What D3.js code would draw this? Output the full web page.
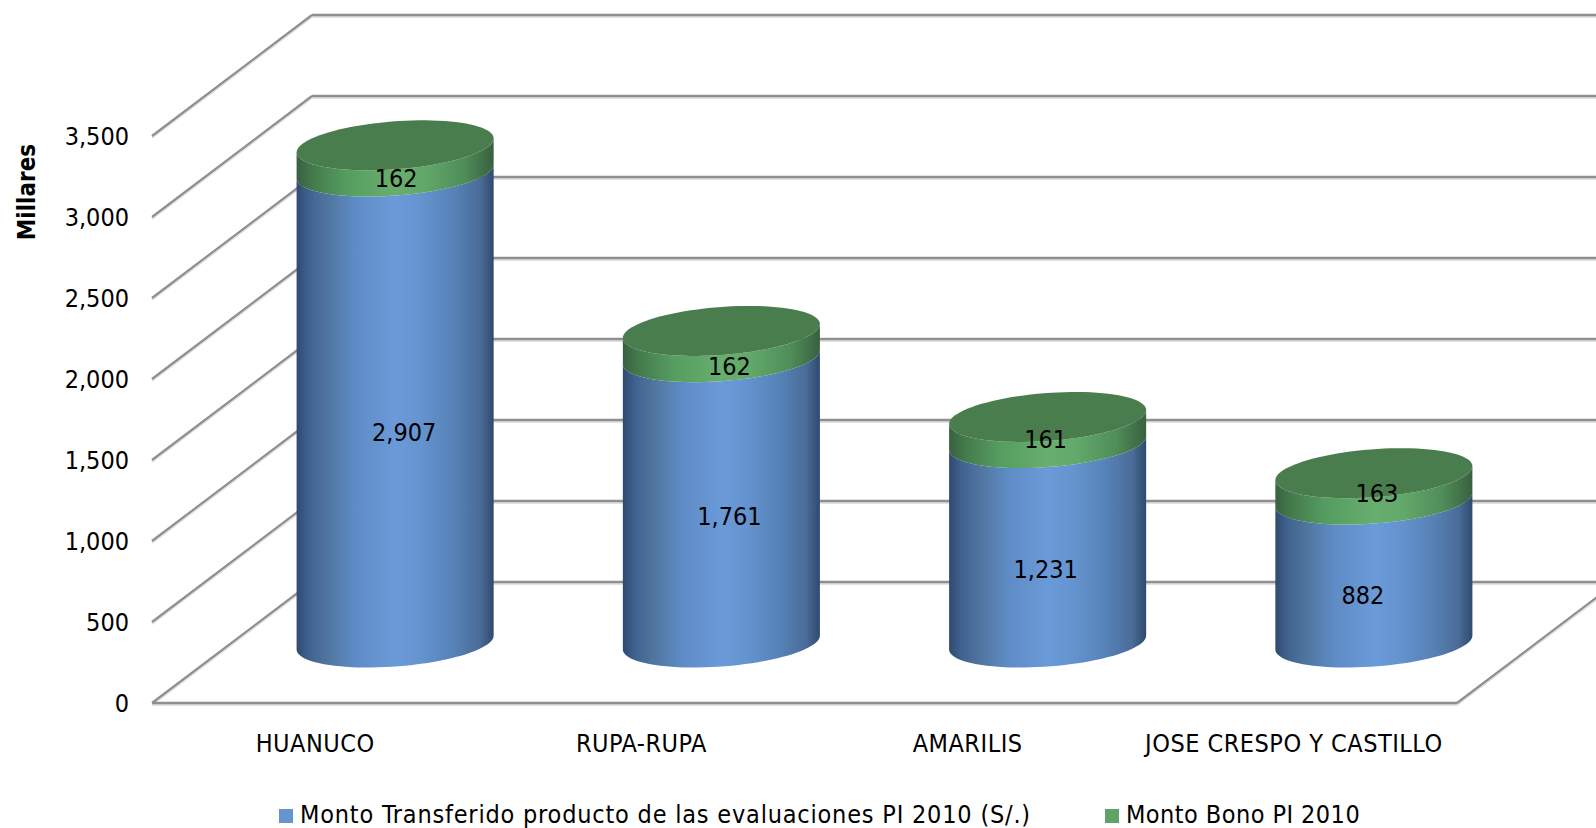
<!DOCTYPE html>
<html><head><meta charset="utf-8">
<script src="https://cdnjs.cloudflare.com/ajax/libs/d3/7.8.5/d3.min.js"></script>
<style>html,body{margin:0;padding:0;background:#fff;overflow:hidden}svg{display:block}
text{font-family:"DejaVu Sans Condensed","DejaVu Sans",sans-serif;font-stretch:condensed;fill:#000}</style></head><body>
<svg id="c" width="1596" height="828"></svg>
<script>
const categories=["HUANUCO","RUPA-RUPA","AMARILIS","JOSE CRESPO Y CASTILLO"];
const transferido=[2907,1761,1231,882];
const bono=[162,162,161,163];
const seriesNames=["Monto Transferido producto de las evaluaciones PI 2010 (S/.)","Monto Bono PI 2010"];
const ticks=[0,500,1000,1500,2000,2500,3000,3500];
// label nudges in px (layout only)
const nudgeBlue=[[9,25],[8,17],[-2,27],[-11,24]];
const nudgeGreen=[[1,20],[8,22],[-2,9],[3,7]];

const W=1596,FS=25,depthX=160,depthY=121;
const FF='"DejaVu Sans Condensed","DejaVu Sans",sans-serif';
const svg=d3.select("#c");
const x=d3.scaleBand().domain(categories).range([152,1457]);
const y=d3.scaleLinear().domain([0,3500]).range([703,136]);
const defs=svg.append("defs");
function grad(id,stops){const g=defs.append("linearGradient").attr("id",id);
 stops.forEach(([o,c])=>g.append("stop").attr("offset",o).attr("stop-color",c));}
grad("gb",[[0,"#2f4a6e"],[.06,"#40618f"],[.16,"#50769f"],[.3,"#5f8cc6"],[.5,"#6b9ad9"],[.62,"#6594d0"],[.8,"#5682b6"],[.93,"#4a6c98"],[1,"#2f4a6e"]]);
grad("gg",[[0,"#39603f"],[.08,"#447a4c"],[.25,"#559c60"],[.5,"#67ae6f"],[.65,"#62a86a"],[.85,"#4f8d59"],[1,"#39603f"]]);

// grid
const grid=svg.append("g");
function gl(x1,y1,x2,y2,sw){
 grid.append("line").attr("x1",x1).attr("y1",y1+2).attr("x2",x2).attr("y2",y2+2).attr("stroke","#e2e2e2").attr("stroke-width",2);
 grid.append("line").attr("x1",x1).attr("y1",y1).attr("x2",x2).attr("y2",y2).attr("stroke","#8f8f8f").attr("stroke-width",sw);
}
const x0=x.range()[0],x1=x.range()[1];
ticks.forEach(t=>{
 gl(x0,y(t),x0+depthX,y(t)-depthY,2.2);
 gl(x0+depthX,y(t)-depthY,W,y(t)-depthY,2.6);
});
gl(x0,y(0),x1,y(0),2.6);
gl(x1,y(0),x1+depthX,y(0)-depthY,2.2);

// cylinders
const rx=x.bandwidth()*0.302, ry=24, shear=-7;
const ang=d3.range(0,361,4).map(d=>d*Math.PI/180);
const pt=(cx,cy,t)=>[cx+rx*Math.cos(t),cy+shear*Math.cos(t)+ry*Math.sin(t)];
const line=d3.line();
function side(cx,yb,yt){
 const front=ang.filter(a=>a<=Math.PI);
 const lower=front.map(t=>pt(cx,yb,t));
 const upper=front.slice().reverse().map(t=>pt(cx,yt,t));
 return line(lower.concat(upper))+"Z";
}
const bars=svg.append("g");
categories.forEach((c,i)=>{
 const cx=x(c)+x.bandwidth()/2+depthX/2;
 const yb=y(0)-depthY/2, ym=y(transferido[i])-depthY/2, yt=y(transferido[i]+bono[i])-depthY/2;
 bars.append("path").attr("d",side(cx,yb,ym)).attr("fill","url(#gb)");
 bars.append("path").attr("d",side(cx,ym,yt)).attr("fill","url(#gg)");
 bars.append("path").attr("d",line(ang.map(t=>pt(cx,yt,t)))+"Z").attr("fill","#4a7d4e");
 svg.append("text").attr("x",cx+nudgeBlue[i][0]).attr("y",y(transferido[i]/2)-depthY/2+nudgeBlue[i][1])
  .attr("text-anchor","middle").attr("dominant-baseline","central").attr("font-size",FS).text(d3.format(",")(transferido[i]));
 svg.append("text").attr("x",cx+nudgeGreen[i][0]).attr("y",y(transferido[i]+bono[i]/2)-depthY/2+nudgeGreen[i][1])
  .attr("text-anchor","middle").attr("dominant-baseline","central").attr("font-size",FS).text(bono[i]);
});

// axes
const ya=svg.append("g").attr("transform","translate(136,0.5)")
 .call(d3.axisLeft(y).tickValues(ticks).tickSize(0).tickPadding(7).tickFormat(d3.format(",")));
ya.select(".domain").remove();
ya.selectAll("text").attr("font-size",FS).style("font-family",FF).attr("fill","#000");
const xa=svg.append("g").attr("transform","translate(0,743)")
 .call(d3.axisBottom(x).tickSize(0).tickPadding(0));
xa.select(".domain").remove();
xa.selectAll("text").attr("font-size",FS).attr("dy","0.35em").attr("y",0).attr("letter-spacing",0.5).style("font-family",FF).attr("fill","#000");

svg.append("text").attr("transform","translate(27,192) rotate(-90)").attr("text-anchor","middle")
 .attr("dominant-baseline","central").attr("font-size",24).attr("font-weight","bold").text("Millares");

// legend
const lg=svg.append("g");
[[279,"#6594d0",0.8],[1105,"#5fa268",0.45]].forEach(([lx,col,ls],i)=>{
 lg.append("rect").attr("x",lx).attr("y",809).attr("width",14).attr("height",14).attr("fill",col);
 lg.append("text").attr("x",lx+21).attr("y",814).attr("dominant-baseline","central").attr("font-size",FS).attr("letter-spacing",ls).text(seriesNames[i]);
});
</script></body></html>
